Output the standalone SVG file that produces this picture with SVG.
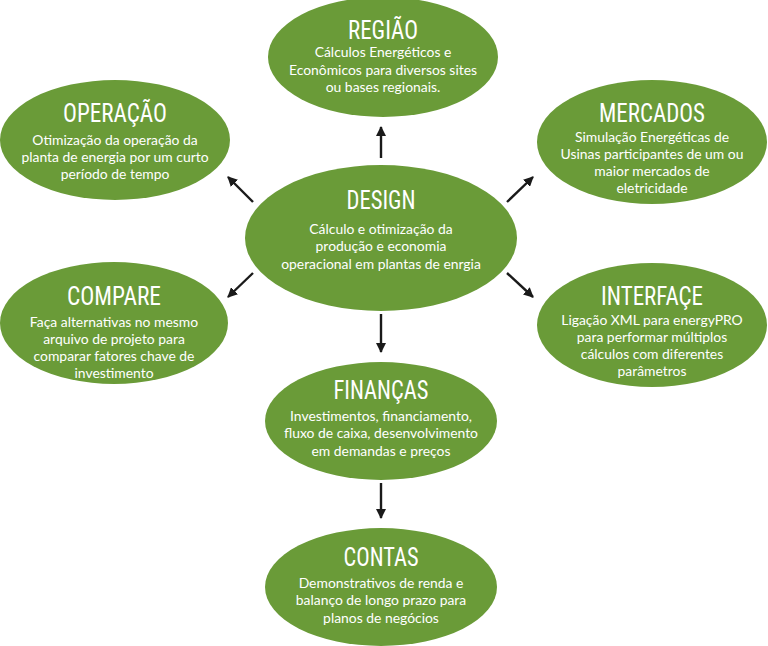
<svg xmlns="http://www.w3.org/2000/svg" width="768" height="646" viewBox="0 0 768 646">
<style>
.node ellipse{fill:#6a9b38}
.t{font-family:"Liberation Sans Narrow","Roboto Condensed","DejaVu Sans Condensed",Roboto,sans-serif;font-size:25px;fill:#fff;text-anchor:middle}
.b{font-family:Lato,"Open Sans",sans-serif;font-size:13.9px;fill:#fff;text-anchor:middle}
.c line{stroke:#1a1a1a;stroke-width:2.4;marker-end:url(#ah)}
</style>
<defs>
<marker id="ah" viewBox="0 0 10 10" refX="9" refY="5" markerWidth="4.2" markerHeight="4.2" orient="auto" markerUnits="strokeWidth">
<path d="M0,0 L10,5 L0,10 z" fill="#1a1a1a"/>
</marker>
</defs>
<rect width="768" height="646" fill="#fff"/>
<g class="c" id="connectors">
<line x1="381" y1="158" x2="381" y2="127"/>
<line x1="253" y1="202" x2="228" y2="177"/>
<line x1="507" y1="202" x2="533" y2="177"/>
<line x1="253" y1="273" x2="228" y2="297"/>
<line x1="507" y1="273" x2="533" y2="297"/>
<line x1="381" y1="314" x2="381" y2="352"/>
<line x1="381" y1="483" x2="381" y2="518"/>
</g>
<g class="node" id="regiao">
<ellipse cx="383" cy="57" rx="115" ry="60"/>
<text class="t" x="383" y="39" textLength="70" lengthAdjust="spacingAndGlyphs">REGIÃO</text>
<text class="b" x="383" y="57">Cálculos Energéticos e</text>
<text class="b" x="383" y="75">Econômicos para diversos sites</text>
<text class="b" x="383" y="92">ou bases regionais.</text>
</g>
<g class="node" id="operacao">
<ellipse cx="115" cy="140" rx="115" ry="60"/>
<text class="t" x="115" y="122" textLength="104" lengthAdjust="spacingAndGlyphs">OPERAÇÃO</text>
<text class="b" x="115" y="145">Otimização da operação da</text>
<text class="b" x="115" y="162">planta de energia por um curto</text>
<text class="b" x="115" y="179">período de tempo</text>
</g>
<g class="node" id="mercados">
<ellipse cx="652" cy="142" rx="115" ry="62"/>
<text class="t" x="652" y="122" textLength="106" lengthAdjust="spacingAndGlyphs">MERCADOS</text>
<text class="b" x="652" y="142">Simulação Energéticas de</text>
<text class="b" x="652" y="159">Usinas participantes de um ou</text>
<text class="b" x="652" y="176">maior mercados de</text>
<text class="b" x="652" y="193">eletricidade</text>
</g>
<g class="node" id="design">
<ellipse cx="381" cy="238" rx="136" ry="73"/>
<text class="t" x="381" y="209" textLength="69" lengthAdjust="spacingAndGlyphs">DESIGN</text>
<text class="b" x="381" y="234">Cálculo e otimização da</text>
<text class="b" x="381" y="251">produção e economia</text>
<text class="b" x="381" y="269">operacional em plantas de enrgia</text>
</g>
<g class="node" id="compare">
<ellipse cx="114" cy="323" rx="114" ry="61"/>
<text class="t" x="114" y="305" textLength="94" lengthAdjust="spacingAndGlyphs">COMPARE</text>
<text class="b" x="114" y="327">Faça alternativas no mesmo</text>
<text class="b" x="114" y="344">arquivo de projeto para</text>
<text class="b" x="114" y="361">comparar fatores chave de</text>
<text class="b" x="114" y="378">investimento</text>
</g>
<g class="node" id="interface">
<ellipse cx="652" cy="325" rx="115" ry="62"/>
<text class="t" x="652" y="305" textLength="102" lengthAdjust="spacingAndGlyphs">INTERFAÇE</text>
<text class="b" x="652" y="325">Ligação XML para energyPRO</text>
<text class="b" x="652" y="342">para performar múltiplos</text>
<text class="b" x="652" y="359">cálculos com diferentes</text>
<text class="b" x="652" y="376">parâmetros</text>
</g>
<g class="node" id="financas">
<ellipse cx="381" cy="421" rx="116" ry="59"/>
<text class="t" x="381" y="399" textLength="95" lengthAdjust="spacingAndGlyphs">FINANÇAS</text>
<text class="b" x="381" y="421">Investimentos, financiamento,</text>
<text class="b" x="381" y="438">fluxo de caixa, desenvolvimento</text>
<text class="b" x="381" y="456">em demandas e preços</text>
</g>
<g class="node" id="contas">
<ellipse cx="381" cy="587" rx="116" ry="59"/>
<text class="t" x="381" y="566" textLength="75" lengthAdjust="spacingAndGlyphs">CONTAS</text>
<text class="b" x="381" y="588">Demonstrativos de renda e</text>
<text class="b" x="381" y="605">balanço de longo prazo para</text>
<text class="b" x="381" y="623">planos de negócios</text>
</g>
</svg>
